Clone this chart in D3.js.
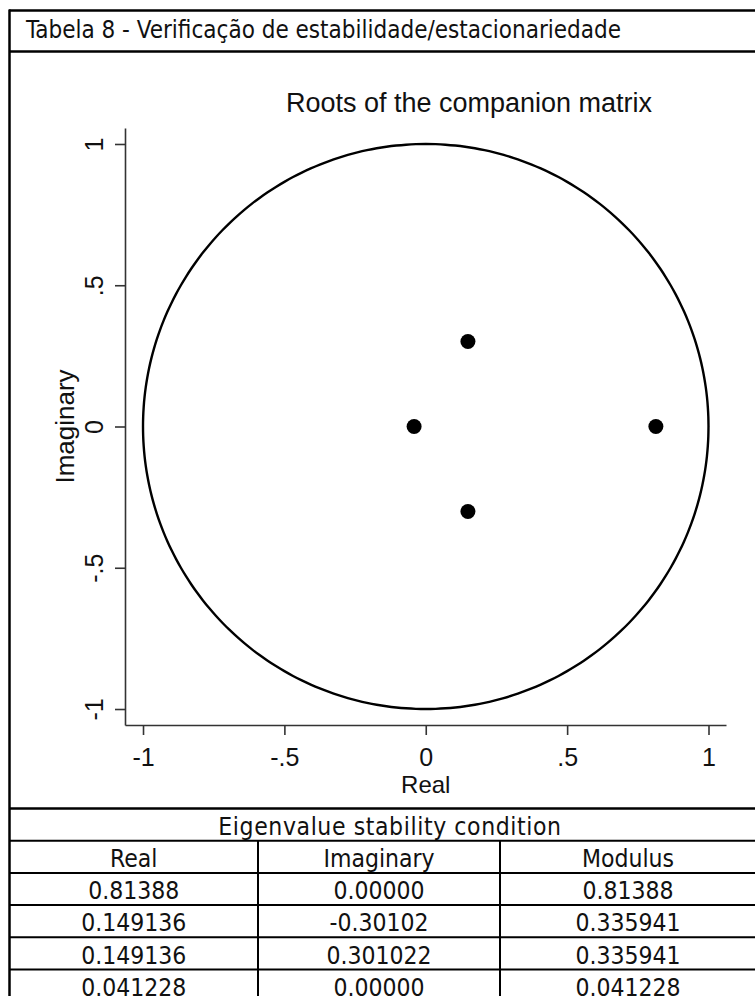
<!DOCTYPE html>
<html>
<head>
<meta charset="utf-8">
<script src="https://cdn.jsdelivr.net/npm/d3@7"></script>
<style>
  body { margin: 0; background: #fff; }
  svg { display: block; }
</style>
</head>
<body>
<script>
// roots as plotted
const rootReal = [0.81388, 0.149136, 0.149136, -0.041228];
const rootImag = [0, -0.30102, 0.301022, 0];

const axisTicks = [-1, -0.5, 0, 0.5, 1];
const tickLabels = ['-1', '-.5', '0', '.5', '1'];

// table below the graph
const tableTitle = 'Eigenvalue stability condition';
const tableHeader = ['Real', 'Imaginary', 'Modulus'];
const colReal = ['0.81388', '0.149136', '0.149136', '0.041228'];
const colImag = ['0.00000', '-0.30102', '0.301022', '0.00000'];
const colModulus = ['0.81388', '0.335941', '0.335941', '0.041228'];

const w = 755;
const h = 996;
const tableFont = '"DejaVu Sans Condensed", "DejaVu Sans", sans-serif';
const plotFont = '"Liberation Sans", Arial, sans-serif';

const svg = d3.select('body').append('svg').attr('width', w).attr('height', h);

// frame: caption row
svg.append('text').text('Tabela 8 - Verificação de estabilidade/estacionariedade')
   .attr('x', 26).attr('y', 38)
   .style('font-family', tableFont).style('font-size', '24px').style('fill', '#111');

const frame = svg.append('g').attr('stroke', '#000').attr('stroke-width', 2.5).attr('fill', 'none');
frame.append('line').attr('x1', 9).attr('x2', w + 5).attr('y1', 10.5).attr('y2', 10.5);
frame.append('line').attr('x1', 9).attr('x2', w + 5).attr('y1', 51.5).attr('y2', 51.5);
frame.append('line').attr('x1', 9).attr('x2', w + 5).attr('y1', 808.5).attr('y2', 808.5);
frame.append('line').attr('x1', 9.5).attr('x2', 9.5).attr('y1', 9.5).attr('y2', h + 5);

// graph
const x = d3.scaleLinear().domain([-1.0637, 1.0619]).range([125, 726]);
const y = d3.scaleLinear().domain([-1.0566, 1.0566]).range([725, 128]);

svg.append('text').text('Roots of the companion matrix')
   .attr('x', 469).attr('y', 112).attr('text-anchor', 'middle')
   .style('font-family', plotFont).style('font-size', '27px').style('fill', '#111');

const xAxis = d3.axisBottom(x).tickValues(axisTicks).tickFormat((d, i) => tickLabels[i]).tickSize(10).tickSizeOuter(0);
const yAxis = d3.axisLeft(y).tickValues(axisTicks).tickFormat((d, i) => tickLabels[i]).tickSize(10).tickSizeOuter(0);

const gx = svg.append('g').attr('transform', 'translate(0,725)').call(xAxis);
const gy = svg.append('g').attr('transform', 'translate(125,0)').call(yAxis);

[gx, gy].forEach(g => {
  g.select('.domain').attr('stroke', '#333').attr('stroke-width', 1.6);
  g.selectAll('.tick line').attr('stroke', '#333').attr('stroke-width', 1.6);
  g.selectAll('.tick text').style('font-family', plotFont).style('font-size', '25px').attr('fill', '#111');
});
gx.selectAll('.tick text').attr('y', 41).attr('dy', 0);
gy.selectAll('.tick text')
  .attr('transform', 'rotate(-90)')
  .attr('x', 0).attr('y', -22).attr('dy', 0)
  .attr('text-anchor', 'middle');

svg.append('text').text('Real')
   .attr('x', x(0)).attr('y', 793).attr('text-anchor', 'middle')
   .style('font-family', plotFont).style('font-size', '24px').style('fill', '#111');
svg.append('text').text('Imaginary')
   .attr('transform', 'translate(74,' + y(0) + ')rotate(-90)')
   .attr('text-anchor', 'middle')
   .style('font-family', plotFont).style('font-size', '26px').style('fill', '#111');

// unit circle
const angles = d3.range(0, 361, 2);
svg.append('path')
   .datum(angles)
   .attr('d', d3.line()
     .x(a => x(Math.cos(a * Math.PI / 180)))
     .y(a => y(Math.sin(a * Math.PI / 180)))
     .curve(d3.curveCardinalClosed))
   .attr('fill', 'none').attr('stroke', '#000').attr('stroke-width', 2.4);

svg.selectAll('circle.root')
   .data(rootReal)
   .enter()
   .append('circle')
   .attr('class', 'root')
   .attr('cx', d => x(d))
   .attr('cy', (d, i) => y(rootImag[i]))
   .attr('r', 7.5)
   .attr('fill', '#000');

// table
const colEdges = [9.5, 258, 500, w + 5];
const rowTop = 808.5;
const rowH = 32.2;
const rows = [tableHeader].concat(colReal.map((d, i) => [d, colImag[i], colModulus[i]]));

svg.append('text').text(tableTitle)
   .attr('x', 390).attr('y', rowTop + rowH - 6).attr('text-anchor', 'middle')
   .style('letter-spacing', '0.6px')
   .style('font-family', tableFont).style('font-size', '24.5px').style('fill', '#111');

const tbl = svg.append('g').attr('stroke', '#000').attr('stroke-width', 2);
d3.range(1, rows.length + 1).forEach(r => {
  tbl.append('line').attr('x1', 9).attr('x2', w + 5).attr('y1', rowTop + r * rowH).attr('y2', rowTop + r * rowH);
});
[colEdges[1], colEdges[2]].forEach(cx => {
  tbl.append('line').attr('x1', cx).attr('x2', cx).attr('y1', rowTop + rowH).attr('y2', h + 5);
});

rows.forEach((row, r) => {
  row.forEach((cell, c) => {
    svg.append('text').text(cell)
       .attr('x', (colEdges[c] + colEdges[c + 1]) / 2 + (c === 2 ? -2 : 0))
       .attr('y', rowTop + (r + 2) * rowH - 6)
       .attr('text-anchor', 'middle')
       .style('font-family', tableFont).style('font-size', '24.5px').style('fill', '#111');
  });
});
</script>
</body>
</html>
